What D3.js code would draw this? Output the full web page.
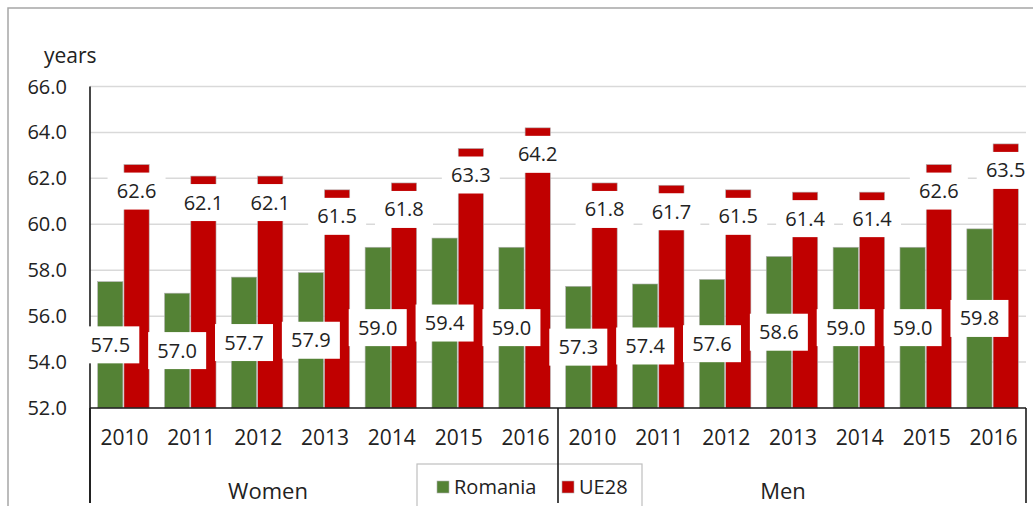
<!DOCTYPE html>
<html>
<head>
<meta charset="utf-8" />
<title>Age - Romania vs UE28</title>
<style>
body { margin: 0; background: #fff; }
svg { display: block; font-family: "Open Sans", sans-serif; }
.grid line { stroke: #d9d9d9; stroke-width: 1.5px; }
.lbl text { fill: #222; }
</style>
</head>
<body>
<script src="https://d3js.org/d3.v7.min.js"></script>
<script>
var width = 1033,
    height = 506;

// data
var groups = ["Women", "Men"];
var years = ["2010", "2011", "2012", "2013", "2014", "2015", "2016"];
var series = ["Romania", "UE28"];
var romaniaWomen = [57.5, 57.0, 57.7, 57.9, 59.0, 59.4, 59.0];
var ue28Women    = [62.6, 62.1, 62.1, 61.5, 61.8, 63.3, 64.2];
var romaniaMen   = [57.3, 57.4, 57.6, 58.6, 59.0, 59.0, 59.8];
var ue28Men      = [61.8, 61.7, 61.5, 61.4, 61.4, 62.6, 63.5];
var yTicks = [52, 54, 56, 58, 60, 62, 64, 66];

var colors = {Romania: "#548235", UE28: "#c00000"};

// flatten into rows
var rows = [];
years.forEach(function(y, i){ rows.push({group:"Women", year:y, Romania:romaniaWomen[i], UE28:ue28Women[i]}); });
years.forEach(function(y, i){ rows.push({group:"Men", year:y, Romania:romaniaMen[i], UE28:ue28Men[i]}); });
rows.forEach(function(d){ d.key = d.group + "-" + d.year; });

// plot box (note: "top" is taken by window.top)
var pLeft = 90, pRight = 1026, pTop = 86.5, pBottom = 408;

var x0 = d3.scaleBand()
    .domain(rows.map(function(d){ return d.key; }))
    .range([pLeft, pRight])
    .paddingInner(0.23)
    .paddingOuter(0.115);

var x1 = d3.scaleBand()
    .domain(series)
    .range([0, x0.bandwidth()])
    .paddingInner(0.04);

var y = d3.scaleLinear()
    .domain([52, 66])
    .range([pBottom, pTop]);

var svg = d3.select("body").append("svg")
    .attr("width", width)
    .attr("height", height);

// outer frame
svg.append("rect")
    .attr("x", 8).attr("y", 8)
    .attr("width", 1100).attr("height", 600)
    .style("fill", "none")
    .style("stroke", "#a6a6a6")
    .style("stroke-width", "1.5px");

// gridlines
svg.append("g").attr("class", "grid")
  .selectAll("line")
  .data(yTicks.slice(1))
  .enter().append("line")
    .attr("x1", pLeft).attr("x2", pRight)
    .attr("y1", function(d){ return y(d); })
    .attr("y2", function(d){ return y(d); });

// y tick labels
svg.append("g").attr("class", "lbl")
  .selectAll("text")
  .data(yTicks)
  .enter().append("text")
    .attr("x", 67)
    .attr("y", function(d){ return y(d); })
    .attr("dy", "0.35em")
    .attr("text-anchor", "end")
    .style("font-size", "20px")
    .text(d3.format(".1f"));

svg.append("text")
    .attr("x", 44).attr("y", 63)
    .style("font-size", "21px")
    .style("fill", "#222")
    .text("years");

// axes lines (drawn before labels so the 57.5 box covers the y axis)
var firstMen = x0("Men-2010") - x0.step() * x0.paddingInner() / 2;
var axes = svg.append("g")
    .style("stroke", "#1a1a1a")
    .style("stroke-width", "1.6px");
axes.append("line").attr("x1", pLeft).attr("x2", pLeft).attr("y1", pTop).attr("y2", 503);

// bars
var bars = svg.append("g");
rows.forEach(function(d){
  series.forEach(function(s){
    bars.append("rect")
      .attr("x", x0(d.key) + x1(s))
      .attr("y", y(d[s]))
      .attr("width", x1.bandwidth())
      .attr("height", y(52) - y(d[s]))
      .style("fill", colors[s])
      .style("stroke", "#b0b0b0")
      .style("stroke-width", "0.6px");
  });
});

// data labels with white boxes
var boxW = 58, boxH = 37;
var labels = svg.append("g").attr("class", "lbl");
rows.forEach(function(d){
  // Romania: centered in bar
  var cx = x0(d.key) + x1("Romania") + x1.bandwidth() / 2;
  var cy = (y(d.Romania) + y(52)) / 2;
  labels.append("rect")
    .attr("x", cx - boxW / 2).attr("y", cy - boxH / 2)
    .attr("width", boxW).attr("height", boxH)
    .style("fill", "#fff");
  labels.append("text")
    .attr("x", cx).attr("y", cy).attr("dy", "0.35em")
    .attr("text-anchor", "middle")
    .style("font-size", "20px")
    .text(d3.format(".1f")(d.Romania));

  // UE28: inside end, leaving a thin strip of bar on top
  var rx = x0(d.key) + x1("UE28") + x1.bandwidth() / 2;
  var ry = y(d.UE28) + 8 + boxH / 2;
  labels.append("rect")
    .attr("x", rx - boxW / 2).attr("y", ry - boxH / 2)
    .attr("width", boxW).attr("height", boxH)
    .style("fill", "#fff");
  labels.append("text")
    .attr("x", rx).attr("y", ry).attr("dy", "0.35em")
    .attr("text-anchor", "middle")
    .style("font-size", "20px")
    .text(d3.format(".1f")(d.UE28));
});

// year labels
svg.append("g").attr("class", "lbl")
  .selectAll("text")
  .data(rows)
  .enter().append("text")
    .attr("x", function(d){ return x0(d.key) + x0.bandwidth() / 2 + 1; })
    .attr("y", 438)
    .attr("dy", "0.35em")
    .attr("text-anchor", "middle")
    .style("font-size", "21px")
    .text(function(d){ return d.year; });

// legend
var lg = svg.append("g");
lg.append("rect")
    .attr("x", 417).attr("y", 464)
    .attr("width", 225).attr("height", 60)
    .style("fill", "#fff")
    .style("stroke", "#bfbfbf")
    .style("stroke-width", "1.2px");
var legendPos = {Romania: 437, UE28: 562};
series.forEach(function(s){
  lg.append("rect")
    .attr("x", legendPos[s]).attr("y", 481)
    .attr("width", 12).attr("height", 12)
    .style("fill", colors[s])
    .style("stroke", "#b0b0b0")
    .style("stroke-width", "0.6px");
  lg.append("text")
    .attr("x", legendPos[s] + 17).attr("y", 487).attr("dy", "0.35em")
    .style("font-size", "20px")
    .style("fill", "#222")
    .text(s);
});

// baseline and category separators
var axes2 = svg.append("g")
    .style("stroke", "#1a1a1a")
    .style("stroke-width", "1.6px");
axes2.append("line").attr("x1", pLeft).attr("x2", pRight).attr("y1", pBottom).attr("y2", pBottom);
axes2.append("line").attr("x1", pLeft).attr("x2", pLeft).attr("y1", pBottom).attr("y2", 503);
axes2.append("line").attr("x1", firstMen).attr("x2", firstMen).attr("y1", pBottom).attr("y2", 503);
axes2.append("line").attr("x1", pRight).attr("x2", pRight).attr("y1", pBottom).attr("y2", 503);

// group labels
var groupShift = {Women: -56, Men: -9};
svg.append("g").attr("class", "lbl")
  .selectAll("text")
  .data(groups)
  .enter().append("text")
    .attr("x", function(g){
      var ks = rows.filter(function(d){ return d.group === g; });
      var a = x0(ks[0].key), b = x0(ks[ks.length - 1].key) + x0.bandwidth();
      return (a + b) / 2 + groupShift[g];
    })
    .attr("y", 491)
    .attr("dy", "0.35em")
    .attr("text-anchor", "middle")
    .style("font-size", "22px")
    .text(function(g){ return g; });
</script>
</body>
</html>
